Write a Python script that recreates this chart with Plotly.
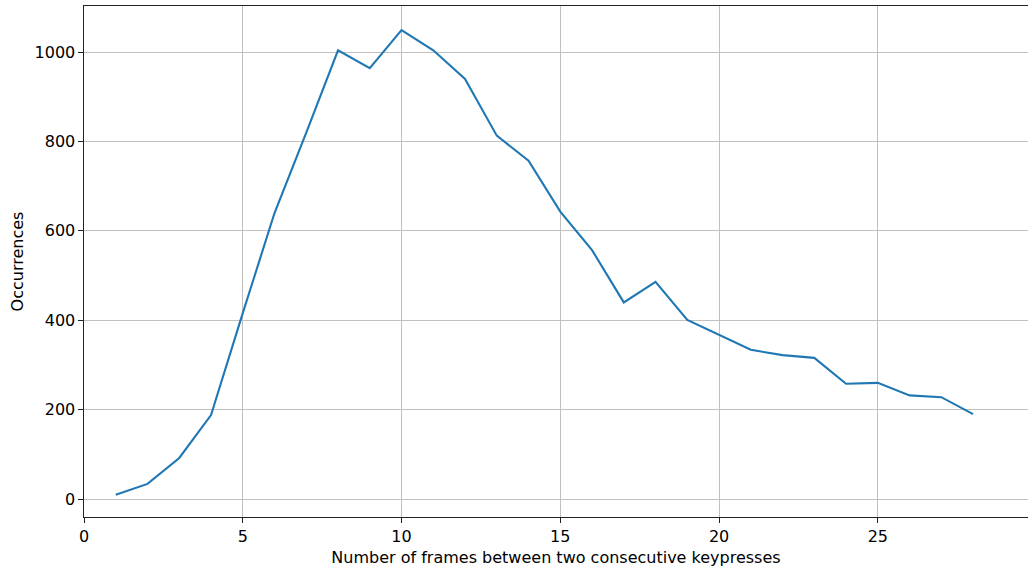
import plotly.graph_objects as go

# Keypress interval histogram (frames between consecutive keypresses)
frames = list(range(1, 29))
occurrences = [10, 34, 92, 188, 416, 640, 820, 1004, 964, 1049, 1004, 940, 813, 757,
               643, 557, 440, 486, 401, 368, 334, 322, 316, 258, 260, 232, 228, 190]

x_ticks = [0, 5, 10, 15, 20, 25]
y_ticks = [0, 200, 400, 600, 800, 1000]

font = dict(family="DejaVu Sans", size=16, color="black")

fig = go.Figure(
    go.Scatter(x=frames, y=occurrences, mode="lines",
               line=dict(color="#1f77b4", width=2.1), showlegend=False)
)

axis_common = dict(
    showgrid=True, gridcolor="#c0c0c0", gridwidth=1.1,
    showline=True, linecolor="#222222", linewidth=1.1,
    ticks="outside", ticklen=4.5, tickwidth=1.1, tickcolor="#222222",
    zeroline=False, tickfont=font,
)

fig.update_xaxes(
    range=[0, 29.73], tickvals=x_ticks, mirror=True,
    title=dict(text="Number of frames between two consecutive keypresses", font=font, standoff=7),
    **axis_common,
)
fig.update_yaxes(
    range=[-40, 1103], tickvals=y_ticks,
    title=dict(text="Occurrences", font=font, standoff=6),
    **axis_common,
)

fig.update_layout(
    width=1029, height=569,
    margin=dict(l=84, r=1, t=6, b=52),
    paper_bgcolor="white", plot_bgcolor="white",
    font=font,
)

fig.write_html("out.html")
